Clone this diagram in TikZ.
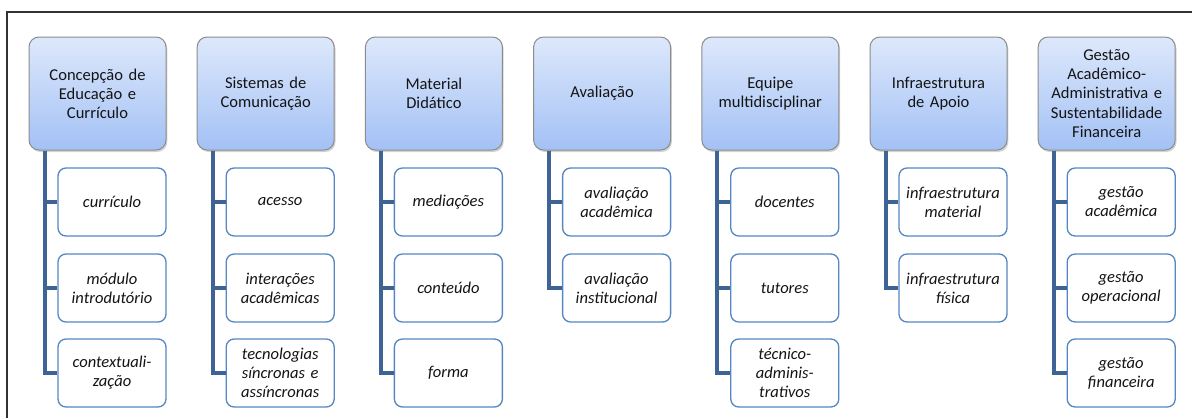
\documentclass[tikz,border=0pt]{standalone}
\usepackage{fontspec}
\setmainfont{Carlito}
\usetikzlibrary{shadows}
\definecolor{hdrtop}{RGB}{221,232,251}
\definecolor{hdrbot}{RGB}{163,193,245}
\definecolor{hdrline}{RGB}{140,140,140}
\definecolor{trunkc}{RGB}{62,100,150}
\definecolor{leafline}{RGB}{85,135,195}
\definecolor{framec}{RGB}{50,50,50}
\definecolor{txt}{RGB}{20,20,20}
\begin{document}
\begin{tikzpicture}[x=0.75pt,y=-0.75pt,
  hdr/.style={draw=hdrline, line width=0.75pt, rounded corners=7.5pt,
    top color=hdrtop, bottom color=hdrbot,
    minimum width=102.75pt, minimum height=84.75pt, text width=98pt,
    align=center, inner sep=0pt, text=txt,
    font=\fontsize{12.4}{14.3}\selectfont,
    drop shadow={shadow xshift=1pt, shadow yshift=-1.5pt, opacity=0.35}},
  leafbox/.style={draw=leafline, line width=1pt, fill=white, rounded corners=6pt,
    minimum width=81pt, minimum height=51pt, text width=78pt,
    align=center, inner sep=0pt, text=txt,
    font=\fontsize{12.4}{14.3}\selectfont\itshape},
  trunk/.style={draw=trunkc, line width=3pt}
]
\useasboundingbox (0,0) rectangle (1192,418);
\draw[framec, line width=1.5pt] (7,418) -- (7,12) -- (1192,12);

% headers
\node[hdr] (h1) at (97.5,93.5) {Concepção de\\Educação e\\Currículo};
\node[hdr] (h2) at (265.7,93.5) {Sistemas de\\Comunicação};
\node[hdr] (h3) at (433.9,93.5) {Material\\Didático};
\node[hdr] (h4) at (602.1,93.5) {Avaliação};
\node[hdr] (h5) at (770.3,93.5) {Equipe\\multidisciplinar};
\node[hdr] (h6) at (938.5,93.5) {Infraestrutura\\de Apoio};
\node[hdr] (h7) at (1106.7,93.5) {Gestão\\Acadêmico-\\Administrativa e\\Sustentabilidade\\Financeira};

% leaves
\node[leafbox] (l11) at (112,202) {currículo};
\node[leafbox] (l12) at (112,288) {módulo\\introdutório};
\node[leafbox] (l13) at (112,373) {contextuali-\\zação};

\node[leafbox] (l21) at (280.2,202) {acesso};
\node[leafbox] (l22) at (280.2,288) {interações\\acadêmicas};
\node[leafbox] (l23) at (280.2,373) {tecnologias\\síncronas e\\assíncronas};

\node[leafbox] (l31) at (448.4,202) {mediações};
\node[leafbox] (l32) at (448.4,288) {conteúdo};
\node[leafbox] (l33) at (448.4,373) {forma};

\node[leafbox] (l41) at (616.6,202) {avaliação\\acadêmica};
\node[leafbox] (l42) at (616.6,288) {avaliação\\institucional};

\node[leafbox] (l51) at (784.8,202) {docentes};
\node[leafbox] (l52) at (784.8,288) {tutores};
\node[leafbox] (l53) at (784.8,373) {técnico-\\adminis-\\trativos};

\node[leafbox] (l61) at (953,202) {infraestrutura\\material};
\node[leafbox] (l62) at (953,288) {infraestrutura\\física};

\node[leafbox] (l71) at (1121.2,202) {gestão\\acadêmica};
\node[leafbox] (l72) at (1121.2,288) {gestão\\operacional};
\node[leafbox] (l73) at (1121.2,373) {gestão\\financeira};

% trunks
\foreach \i in {1,...,7} {
  \coordinate (t\i) at ([xshift=12pt]h\i.south west);
}
\foreach \i/\j in {1/1,1/2,1/3,2/1,2/2,2/3,3/1,3/2,3/3,4/1,4/2,5/1,5/2,5/3,6/1,6/2,7/1,7/2,7/3} {
  \draw[trunk] (t\i) |- (l\i\j.west);
}
\end{tikzpicture}
\end{document}
